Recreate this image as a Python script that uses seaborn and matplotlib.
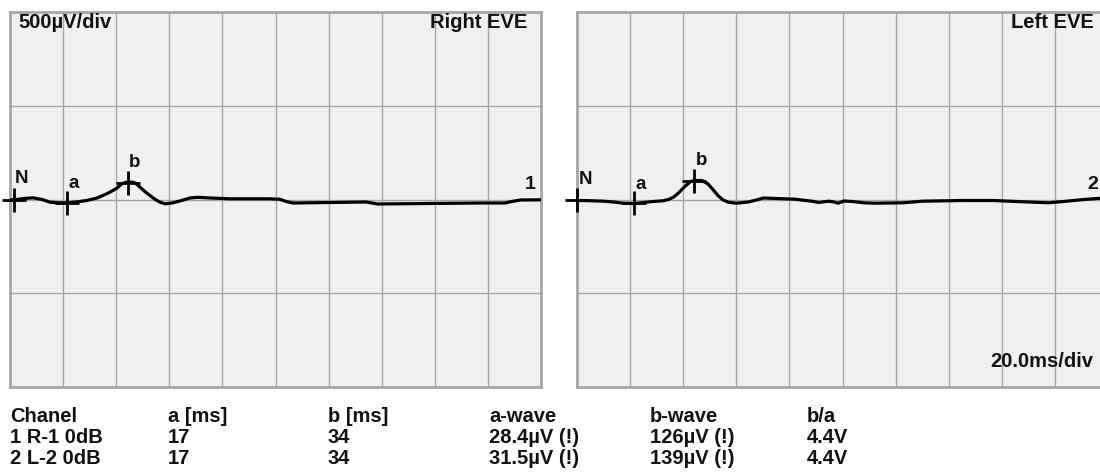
import matplotlib
matplotlib.use("Agg")
import matplotlib.pyplot as plt
import seaborn as sns
import pandas as pd
import numpy as np

# ---- data ----
right_t = [0, 1.5, 5.3, 8.7, 12.1, 15.1, 18.1, 21.4, 24.9, 28.9, 32.8, 36.4, 38.4, 40.2,
           42.1, 43.7, 46.3, 47.5, 49.0, 50.8, 52.7, 54.6, 56.5, 58.4, 61.0, 64.0, 67.8,
           70.8, 75.3, 82.9, 97.9, 101.7, 104.0, 106.6, 120.5, 134.1, 136.3, 138.6,
           158.2, 177.0, 186.4, 189.1, 192.1, 200]
right_v = [-1.6, -1.6, 5.3, 9.0, 0, -14.4, -17.6, -17.6, -13.3, -5.3, 8.0, 30.3, 45.2, 60.1,
           83.5, 92.0, 92.0, 85.1, 65.4, 42.6, 21.3, 1.1, -14.4, -22.9, -18.6, -8.0, 8.0,
           11.7, 8.0, 3.7, 3.7, 1.1, -10.6, -18.6, -16.0, -13.3, -18.6, -23.9,
           -21.3, -18.6, -18.6, -10.6, -2.7, -1.6]
left_t = [0, 4.9, 9.9, 13.7, 17.5, 21.6, 25.0, 28.8, 32.3, 34.5, 36.4, 37.9, 39.5, 41.0,
          42.9, 44.8, 47.1, 49.3, 51.2, 53.1, 55.0, 57.0, 60.0, 64.5, 67.6, 70.2, 75.1,
          82.0, 88.4, 91.1, 93.0, 94.9, 96.8, 98.3, 100.6, 103.6, 108.2, 112.3, 122.6,
          130.2, 145.3, 156.7, 168.1, 177.6, 183.3, 190.9, 198.5, 201.5]
left_v = [-5.3, -6.4, -9.0, -13.3, -19.7, -21.3, -16.0, -10.6, -6.9, 0, 13.3, 30.3, 53.2, 74.5,
          97.3, 101.1, 101.1, 83.5, 53.2, 21.3, -2.7, -14.4, -19.7, -13.3, -2.7, 8.0, 5.3,
          1.6, -9.0, -16.0, -12.2, -9.0, -13.3, -19.7, -8.0, -10.6, -17.6, -19.7, -17.6,
          -9.0, -5.3, -5.3, -12.2, -17.6, -10.6, 0, 8.0, 10.6]

marker_names = ["N", "a", "b"]
right_mk_t = [1.5, 21.4, 44.3]
right_mk_v = [-1.6, -17.6, 90.4]
left_mk_t = [0.1, 21.6, 44.2]
left_mk_v = [-5.3, -21.3, 101.0]

panel_titles = ["Right EVE", "Left EVE"]
channel_ids = ["1", "2"]

table_header = ["Chanel", "a [ms]", "b [ms]", "a-wave", "b-wave", "b/a"]
table_row1 = ["1 R-1 0dB", "17", "34", "28.4µV (!)", "126µV (!)", "4.4V"]
table_row2 = ["2 L-2 0dB", "17", "34", "31.5µV (!)", "139µV (!)", "4.4V"]

# ---- style ----
sns.set_theme(style="white")
plt.rcParams['font.family'] = ['Liberation Sans', 'DejaVu Sans']

W, H = 1100, 475
fig = plt.figure(figsize=(W / 100, H / 100), dpi=100)
fig.patch.set_facecolor("white")

def px_axes(x0, y0, x1, y1):
    return fig.add_axes([x0 / W, 1 - y1 / H, (x1 - x0) / W, (y1 - y0) / H])

ax_r = px_axes(10, 12, 541, 387)
ax_l = px_axes(577, 12, 1108, 387)

grid_col = "#a6a6a6"
txt_col = "#111111"
PT = 0.72  # points per pixel at 100 dpi
label_offsets = [(8 * PT, 21 * PT), (6.5 * PT, 19 * PT), (7 * PT, 20 * PT)]

panels = [
    (ax_r, right_t, right_v, right_mk_t, right_mk_v, panel_titles[0]),
    (ax_l, left_t, left_v, left_mk_t, left_mk_v, panel_titles[1]),
]

for ax, t, v, mt, mv, title in panels:
    ax.set_facecolor("#f0f0f0")
    ax.set_xlim(0, 200)
    ax.set_ylim(-1000, 1000)
    for xg in np.arange(20, 200, 20):
        ax.axvline(xg, color=grid_col, lw=1.0, zorder=1)
    for yg in [-500, 0, 500]:
        ax.axhline(yg, color=grid_col, lw=1.0, zorder=1)
    for s in ax.spines.values():
        s.set_color(grid_col)
        s.set_linewidth(2.0)

    df = pd.DataFrame({"t": t, "v": v})
    sns.lineplot(data=df, x="t", y="v", ax=ax, color="black", lw=2.3,
                 sort=False, zorder=3, solid_joinstyle="round", solid_capstyle="round")
    mk = pd.DataFrame({"t": mt, "v": mv, "name": marker_names})
    sns.scatterplot(data=mk, x="t", y="v", ax=ax, marker="+", s=280,
                    color="black", linewidth=2.0, zorder=4, clip_on=False)
    for (name, xx, yy), off in zip(zip(marker_names, mt, mv), label_offsets):
        ax.annotate(name, (xx, yy), xytext=off, textcoords="offset points",
                    ha="center", va="center", fontsize=13.5, fontweight="bold",
                    color=txt_col, zorder=5)
    ax.text(0.974, 0.972, title, transform=ax.transAxes, ha="right", va="center",
            fontsize=14.5, fontweight="bold", color=txt_col, zorder=5)
    ax.set_xticks([])
    ax.set_yticks([])
    ax.set_xlabel("")
    ax.set_ylabel("")

ax_r.text(0.015, 0.972, "500µV/div", transform=ax_r.transAxes, ha="left", va="center",
          fontsize=14.5, fontweight="bold", color=txt_col, zorder=5)
ax_r.text(0.989, 0.54, channel_ids[0], transform=ax_r.transAxes, ha="right", va="center",
          fontsize=14, fontweight="bold", color=txt_col, zorder=5)
ax_l.text(0.981, 0.54, channel_ids[1], transform=ax_l.transAxes, ha="right", va="center",
          fontsize=14, fontweight="bold", color=txt_col, zorder=5)
ax_l.text(0.972, 0.069, "20.0ms/div", transform=ax_l.transAxes, ha="right", va="center",
          fontsize=14.5, fontweight="bold", color=txt_col, zorder=5)

col_x = [10, 168, 328, 489, 650, 807]
row_base = [422, 443, 464]
for row, yy in zip([table_header, table_row1, table_row2], row_base):
    for txt, xx in zip(row, col_x):
        fig.text(xx / W, 1 - yy / H, txt, ha="left", va="baseline", fontsize=14.5,
                 fontweight="bold", color=txt_col)

fig.savefig("out.png", dpi=100, facecolor="white")
